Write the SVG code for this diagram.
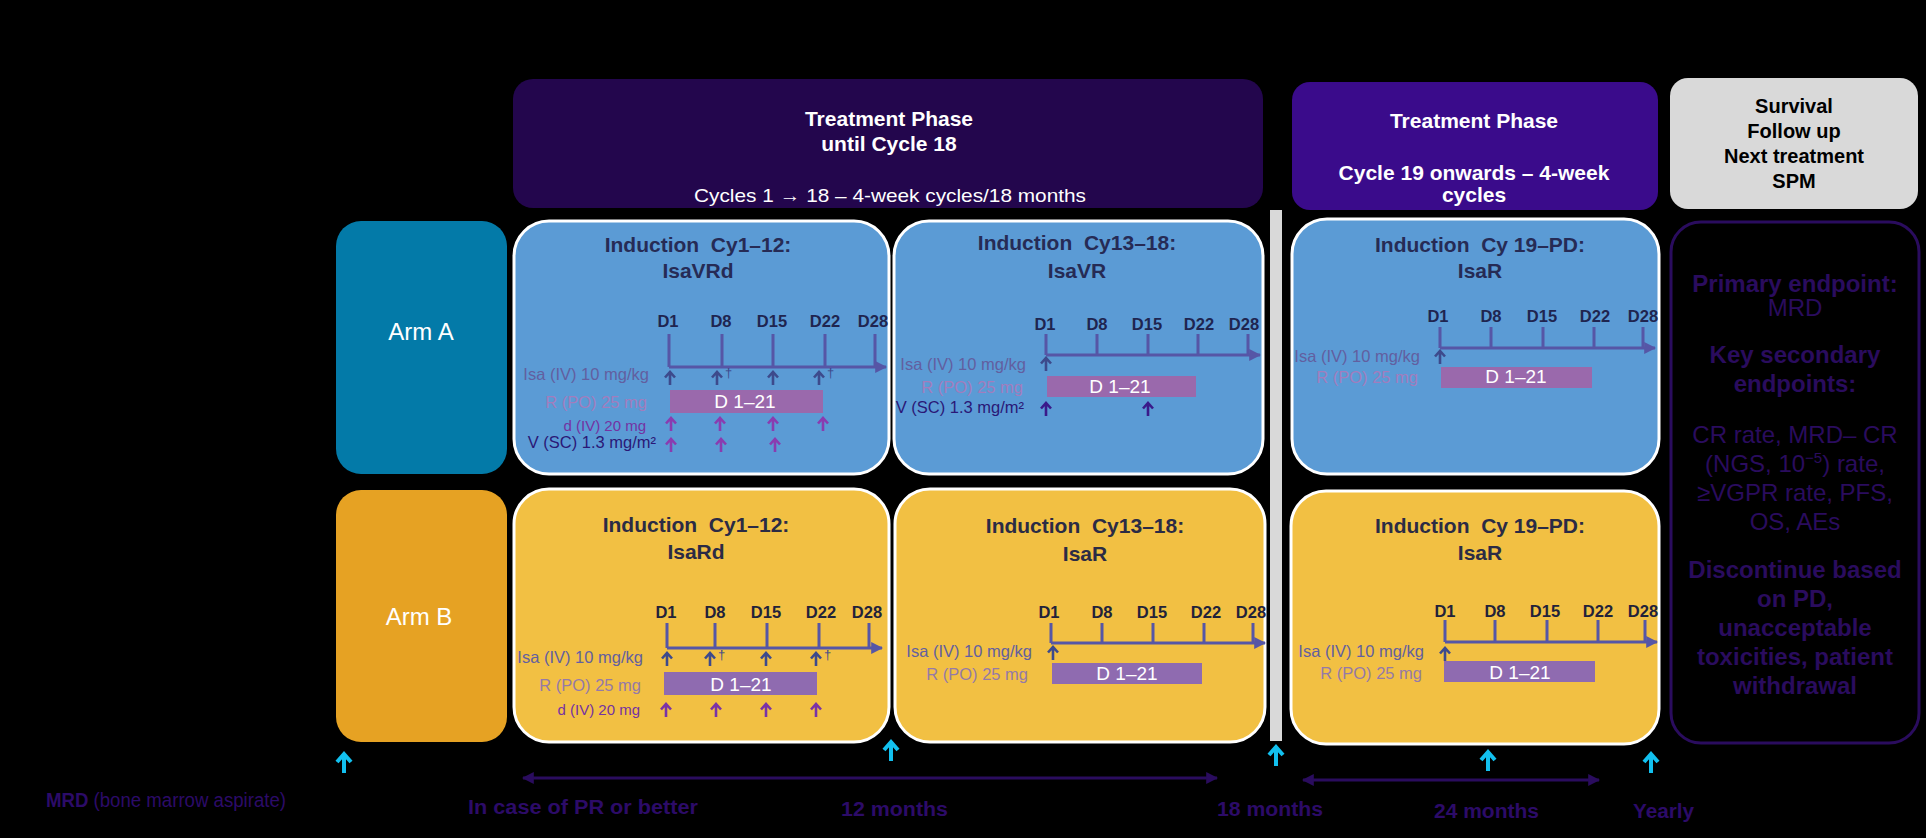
<svg xmlns="http://www.w3.org/2000/svg" width="1926" height="838" viewBox="0 0 1926 838">
<defs>
<style>
text{font-family:"Liberation Sans",Arial,sans-serif}
.hdr{fill:#fff;font-weight:bold;font-size:21px;text-anchor:middle}
.arm{fill:#fff;font-size:24px;text-anchor:middle}
.box{stroke:#fff;stroke-width:3}
.blue{fill:#5b9bd5}
.yel{fill:#f2c043}
.ttl{fill:#262b55;font-weight:bold;font-size:21px;text-anchor:middle;white-space:pre}
.yt{fill:#2b2b45}
.dl{fill:#1f2550;font-weight:bold;font-size:16.5px;text-anchor:middle}
.ydl{fill:#22223a}
.axis{stroke:#5656a6;stroke-width:3;fill:none}
.isa{fill:#625fa0;font-size:16.5px;text-anchor:end}
.rl{fill:#a27dbd;font-size:16.5px;text-anchor:end}
.yrl{fill:#957aa8}
.rbar{fill:#9a69ac}
.yrbar{fill:#8f6bb0}
.d21{fill:#fff;font-size:19px;text-anchor:middle}
.dlab{fill:#7432a2;font-size:15px;text-anchor:end}
.vlab{fill:#2a1877;font-size:16.5px;text-anchor:end}
.dag{fill:#3d4a8c;font-size:13px}
.ep{fill:#2a0c5e;font-size:24px;text-anchor:middle}
.b{font-weight:bold}
.bt{fill:#2c0b68;font-size:20px;font-weight:bold}
.gt{fill:#000;font-weight:bold;font-size:20px;text-anchor:middle}
</style>
<path id="ar" d="M0,0V-13M-5,-7.5L0,-13L5,-7.5" fill="none" stroke-width="2.6"/>
<path id="car" d="M0,0V-19M-7,-11L0,-19L7,-11" fill="none" stroke="#12c0ef" stroke-width="4"/>
<marker id="ah" viewBox="0 0 10 10" refX="9" refY="5" markerWidth="4" markerHeight="4" orient="auto-start-reverse"><path d="M0,0L10,5L0,10z" fill="#2a0c5e"/></marker>
<marker id="axh" viewBox="0 0 10 10" refX="9" refY="5" markerWidth="4" markerHeight="4" orient="auto"><path d="M0,0L10,5L0,10z" fill="#5656a6"/></marker>
</defs>
<rect x="0" y="0" width="1926" height="838" fill="#000"/>

<g id="phase1">
<rect x="513" y="79" width="750" height="129" rx="20" fill="#23064d"/>
<text class="hdr" x="889" y="126">Treatment Phase</text>
<text class="hdr" x="889" y="151">until Cycle 18</text>
<text x="694" y="202" fill="#fff" font-size="19" textLength="392" lengthAdjust="spacingAndGlyphs">Cycles 1 → 18 – 4-week cycles/18 months</text>
</g>

<g id="phase2">
<rect x="1292" y="82" width="366" height="128" rx="18" fill="#3a0b8b"/>
<text class="hdr" x="1474" y="128">Treatment Phase</text>
<text class="hdr" x="1474" y="180" font-size="19.5">Cycle 19 onwards – 4-week</text>
<text class="hdr" x="1474" y="202" font-size="19.5">cycles</text>
</g>

<g id="followup">
<rect x="1670" y="78" width="248" height="131" rx="18" fill="#d9d9d9"/>
<text class="gt" x="1794" y="113">Survival</text>
<text class="gt" x="1794" y="138">Follow up</text>
<text class="gt" x="1794" y="163">Next treatment</text>
<text class="gt" x="1794" y="188">SPM</text>
</g>

<g id="divider">
<rect x="1270" y="210" width="12" height="531" fill="#d9d9d9"/>
</g>

<g id="armA">
<rect x="336" y="221" width="171" height="253" rx="25" fill="#037aa8"/>
<text class="arm" x="421" y="340">Arm A</text>
</g>

<g id="armB">
<rect x="336" y="490" width="171" height="252" rx="25" fill="#e6a223"/>
<text class="arm" x="419" y="625">Arm B</text>
</g>

<g id="a-cy1-12">
<rect class="box blue" x="514" y="221" width="375" height="253" rx="35"/>
<text class="ttl" x="698" y="252">Induction  Cy1–12:</text>
<text class="ttl" x="698" y="278">IsaVRd</text>
<text class="dl" x="668" y="327">D1</text>
<text class="dl" x="721" y="327">D8</text>
<text class="dl" x="772" y="327">D15</text>
<text class="dl" x="825" y="327">D22</text>
<text class="dl" x="873" y="327">D28</text>
<path class="axis" d="M669,334V367M722,334V367M773,334V367M825,334V367M875,334V367"/>
<path class="axis" d="M669,367H886" marker-end="url(#axh)"/>
<text class="isa" x="649" y="380">Isa (IV) 10 mg/kg</text>
<use href="#ar" x="670" y="385" stroke="#3d4a8c"/>
<use href="#ar" x="717" y="385" stroke="#3d4a8c"/>
<use href="#ar" x="773" y="385" stroke="#3d4a8c"/>
<use href="#ar" x="819" y="385" stroke="#3d4a8c"/>
<text class="dag" x="725" y="377">†</text>
<text class="dag" x="827" y="377">†</text>
<text class="rl" x="647" y="408">R (PO) 25 mg</text>
<rect class="rbar" x="670" y="390" width="153" height="23"/>
<text class="d21" x="745" y="408">D 1–21</text>
<text class="dlab" x="646" y="431">d (IV) 20 mg</text>
<use href="#ar" x="671" y="431" stroke="#8a3cb0"/>
<use href="#ar" x="720" y="431" stroke="#8a3cb0"/>
<use href="#ar" x="773" y="431" stroke="#8a3cb0"/>
<use href="#ar" x="823" y="431" stroke="#8a3cb0"/>
<text class="vlab" x="656" y="448">V (SC) 1.3 mg/m²</text>
<use href="#ar" x="671" y="452" stroke="#8a3cb0"/>
<use href="#ar" x="721" y="452" stroke="#8a3cb0"/>
<use href="#ar" x="775" y="452" stroke="#8a3cb0"/>
</g>

<g id="a-cy13-18">
<rect class="box blue" x="894" y="221" width="369" height="253" rx="35"/>
<text class="ttl" x="1077" y="250">Induction  Cy13–18:</text>
<text class="ttl" x="1077" y="278">IsaVR</text>
<text class="dl" x="1045" y="330">D1</text>
<text class="dl" x="1097" y="330">D8</text>
<text class="dl" x="1147" y="330">D15</text>
<text class="dl" x="1199" y="330">D22</text>
<text class="dl" x="1244" y="330">D28</text>
<path class="axis" d="M1046,334V355M1097,334V355M1148,334V355M1198,334V355M1248,334V355"/>
<path class="axis" d="M1046,355H1260" marker-end="url(#axh)"/>
<text class="isa" x="1026" y="370">Isa (IV) 10 mg/kg</text>
<use href="#ar" x="1046" y="371" stroke="#3d4a8c"/>
<text class="rl" x="1023" y="393">R (PO) 25 mg</text>
<rect class="rbar" x="1047" y="376" width="149" height="21"/>
<text class="d21" x="1120" y="393">D 1–21</text>
<text class="vlab" x="1024" y="413">V (SC) 1.3 mg/m²</text>
<use href="#ar" x="1046" y="416" stroke="#3a1a8a"/>
<use href="#ar" x="1148" y="416" stroke="#3a1a8a"/>
</g>

<g id="a-cy19">
<rect class="box blue" x="1292" y="219" width="367" height="255" rx="35"/>
<text class="ttl" x="1480" y="252">Induction  Cy 19–PD:</text>
<text class="ttl" x="1480" y="278">IsaR</text>
<text class="dl" x="1438" y="322">D1</text>
<text class="dl" x="1491" y="322">D8</text>
<text class="dl" x="1542" y="322">D15</text>
<text class="dl" x="1595" y="322">D22</text>
<text class="dl" x="1643" y="322">D28</text>
<path class="axis" d="M1440,327V348M1491,327V348M1543,327V348M1594,327V348M1643,327V348"/>
<path class="axis" d="M1440,348H1655" marker-end="url(#axh)"/>
<text class="isa" x="1420" y="362">Isa (IV) 10 mg/kg</text>
<use href="#ar" x="1440" y="364" stroke="#3d4a8c"/>
<text class="rl" x="1418" y="383">R (PO) 25 mg</text>
<rect class="rbar" x="1441" y="367" width="151" height="21"/>
<text class="d21" x="1516" y="383">D 1–21</text>
</g>

<g id="b-cy1-12">
<rect class="box yel" x="514" y="489" width="375" height="253" rx="35"/>
<text class="ttl yt" x="696" y="532">Induction  Cy1–12:</text>
<text class="ttl yt" x="696" y="559">IsaRd</text>
<text class="dl ydl" x="666" y="618">D1</text>
<text class="dl ydl" x="715" y="618">D8</text>
<text class="dl ydl" x="766" y="618">D15</text>
<text class="dl ydl" x="821" y="618">D22</text>
<text class="dl ydl" x="867" y="618">D28</text>
<path class="axis" d="M667,623V648M715,623V648M767,623V648M819,623V648M869,623V648"/>
<path class="axis" d="M667,648H882" marker-end="url(#axh)"/>
<text class="isa" x="643" y="663">Isa (IV) 10 mg/kg</text>
<use href="#ar" x="667" y="666" stroke="#3d4a8c"/>
<use href="#ar" x="710" y="666" stroke="#3d4a8c"/>
<use href="#ar" x="766" y="666" stroke="#3d4a8c"/>
<use href="#ar" x="816" y="666" stroke="#3d4a8c"/>
<text class="dag" x="718" y="659">†</text>
<text class="dag" x="824" y="659">†</text>
<text class="rl yrl" x="641" y="691">R (PO) 25 mg</text>
<rect class="yrbar" x="664" y="672" width="153" height="23"/>
<text class="d21" x="741" y="691">D 1–21</text>
<text class="dlab" x="640" y="715">d (IV) 20 mg</text>
<use href="#ar" x="666" y="717" stroke="#7a32a6"/>
<use href="#ar" x="716" y="717" stroke="#7a32a6"/>
<use href="#ar" x="766" y="717" stroke="#7a32a6"/>
<use href="#ar" x="816" y="717" stroke="#7a32a6"/>
</g>

<g id="b-cy13-18">
<rect class="box yel" x="895" y="489" width="370" height="253" rx="35"/>
<text class="ttl yt" x="1085" y="533">Induction  Cy13–18:</text>
<text class="ttl yt" x="1085" y="561">IsaR</text>
<text class="dl ydl" x="1049" y="618">D1</text>
<text class="dl ydl" x="1102" y="618">D8</text>
<text class="dl ydl" x="1152" y="618">D15</text>
<text class="dl ydl" x="1206" y="618">D22</text>
<text class="dl ydl" x="1251" y="618">D28</text>
<path class="axis" d="M1051,623V643M1102,623V643M1153,623V643M1204,623V643M1253,623V643"/>
<path class="axis" d="M1051,643H1265" marker-end="url(#axh)"/>
<text class="isa" x="1032" y="657">Isa (IV) 10 mg/kg</text>
<use href="#ar" x="1053" y="660" stroke="#3d4a8c"/>
<text class="rl yrl" x="1028" y="680">R (PO) 25 mg</text>
<rect class="yrbar" x="1052" y="663" width="150" height="21"/>
<text class="d21" x="1127" y="680">D 1–21</text>
</g>

<g id="b-cy19">
<rect class="box yel" x="1291" y="491" width="368" height="253" rx="35"/>
<text class="ttl yt" x="1480" y="533">Induction  Cy 19–PD:</text>
<text class="ttl yt" x="1480" y="560">IsaR</text>
<text class="dl ydl" x="1445" y="617">D1</text>
<text class="dl ydl" x="1495" y="617">D8</text>
<text class="dl ydl" x="1545" y="617">D15</text>
<text class="dl ydl" x="1598" y="617">D22</text>
<text class="dl ydl" x="1643" y="617">D28</text>
<path class="axis" d="M1445,620V642M1495,620V642M1547,620V642M1598,620V642M1645,620V642"/>
<path class="axis" d="M1445,642H1657" marker-end="url(#axh)"/>
<text class="isa" x="1424" y="657">Isa (IV) 10 mg/kg</text>
<use href="#ar" x="1445" y="661" stroke="#3d4a8c"/>
<text class="rl yrl" x="1422" y="679">R (PO) 25 mg</text>
<rect class="yrbar" x="1444" y="661" width="151" height="21"/>
<text class="d21" x="1520" y="679">D 1–21</text>
</g>

<g id="endpoints">
<rect x="1671" y="222" width="248" height="521" rx="30" fill="#000" stroke="#2a0c5e" stroke-width="3"/>
<text class="ep b" x="1795" y="292">Primary endpoint:</text>
<text class="ep" x="1795" y="316">MRD</text>
<text class="ep b" x="1795" y="363">Key secondary</text>
<text class="ep b" x="1795" y="392">endpoints:</text>
<text class="ep" x="1795" y="443">CR rate, MRD– CR</text>
<text class="ep" x="1795" y="472">(NGS, 10<tspan font-size="15" dy="-9">−5</tspan><tspan dy="9">) rate,</tspan></text>
<text class="ep" x="1795" y="501">≥VGPR rate, PFS,</text>
<text class="ep" x="1795" y="530">OS, AEs</text>
<text class="ep b" x="1795" y="578">Discontinue based</text>
<text class="ep b" x="1795" y="607">on PD,</text>
<text class="ep b" x="1795" y="636">unacceptable</text>
<text class="ep b" x="1795" y="665">toxicities, patient</text>
<text class="ep b" x="1795" y="694">withdrawal</text>
</g>

<g id="connectors">
<use href="#car" x="344" y="773"/>
<use href="#car" x="891" y="761"/>
<use href="#car" x="1276" y="766"/>
<use href="#car" x="1488" y="771"/>
<use href="#car" x="1651" y="773"/>
<line x1="523" y1="778" x2="1217" y2="778" stroke="#2a0c5e" stroke-width="3" marker-start="url(#ah)" marker-end="url(#ah)"/>
<line x1="1303" y1="780" x2="1599" y2="780" stroke="#2a0c5e" stroke-width="3" marker-start="url(#ah)" marker-end="url(#ah)"/>
</g>

<g id="timeline-labels">
<text class="bt" x="46" y="807" font-size="18" textLength="240" lengthAdjust="spacingAndGlyphs">MRD<tspan font-weight="normal"> (bone marrow aspirate)</tspan></text>
<text class="bt" x="468" y="814" textLength="230" lengthAdjust="spacingAndGlyphs">In case of PR or better</text>
<text class="bt" x="841" y="816" textLength="107" lengthAdjust="spacingAndGlyphs">12 months</text>
<text class="bt" x="1217" y="816" textLength="106" lengthAdjust="spacingAndGlyphs">18 months</text>
<text class="bt" x="1434" y="818" textLength="105" lengthAdjust="spacingAndGlyphs">24 months</text>
<text class="bt" x="1633" y="818" textLength="61" lengthAdjust="spacingAndGlyphs">Yearly</text>
</g>
</svg>
